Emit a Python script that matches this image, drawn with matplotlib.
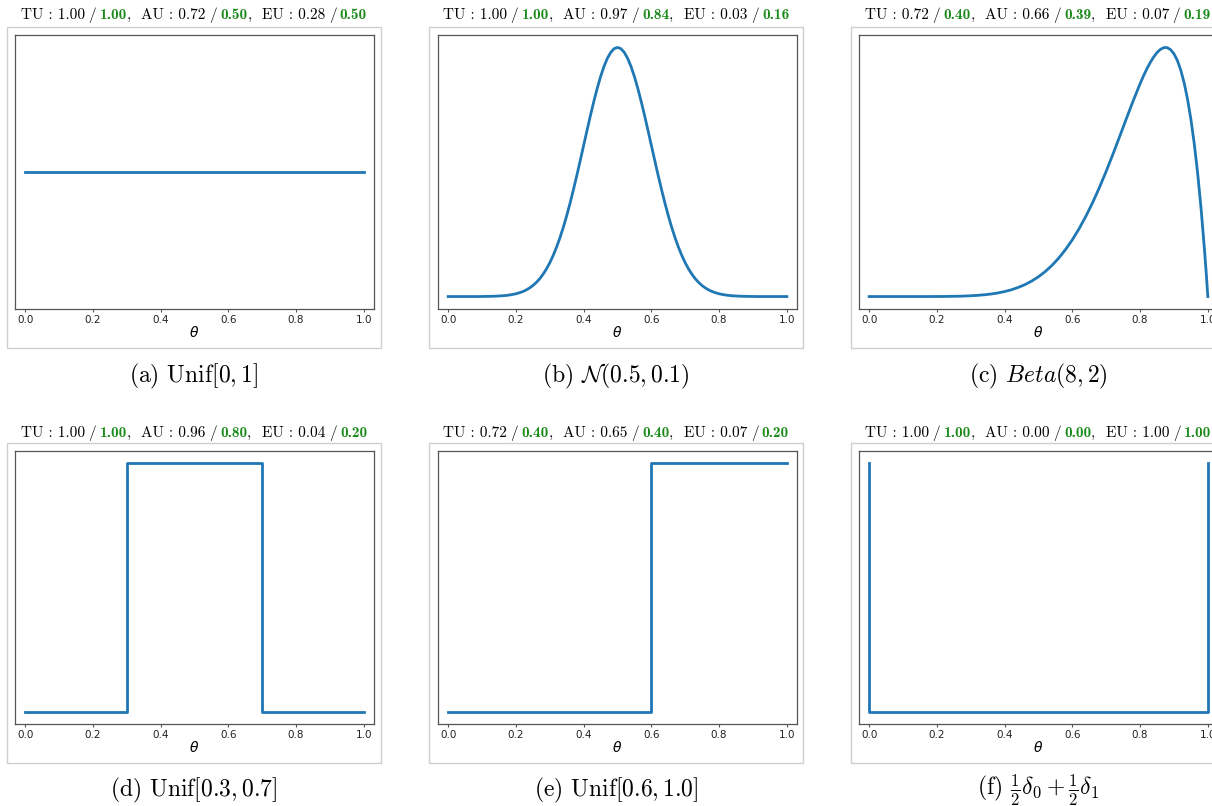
import numpy as np
import matplotlib
matplotlib.use("Agg")
import matplotlib.pyplot as plt
from matplotlib.offsetbox import TextArea, HPacker, AnnotationBbox
from matplotlib.patches import Rectangle

W, H = 1212, 806

# ---- data ----
unif_x = [0.0, 1.0]
unif_y = [1.0, 1.0]

# N(0.5, 0.1), sampled every 0.01
normal_x = np.linspace(0, 1, 101)
normal_y = [0, 0, 0, 0, 0, 0, 0, 0, 0, 0,
            0.001, 0.002, 0.003, 0.004, 0.006, 0.009, 0.012, 0.017, 0.024, 0.033,
            0.044, 0.060, 0.079, 0.104, 0.136, 0.175, 0.224, 0.283, 0.355, 0.440,
            0.540, 0.656, 0.790, 0.940, 1.109, 1.295, 1.497, 1.714, 1.942, 2.179,
            2.420, 2.661, 2.897, 3.123, 3.332, 3.521, 3.683, 3.814, 3.910, 3.970,
            3.989,
            3.970, 3.910, 3.814, 3.683, 3.521, 3.332, 3.123, 2.897, 2.661, 2.420,
            2.179, 1.942, 1.714, 1.497, 1.295, 1.109, 0.940, 0.790, 0.656, 0.540,
            0.440, 0.355, 0.283, 0.224, 0.175, 0.136, 0.104, 0.079, 0.060, 0.044,
            0.033, 0.024, 0.017, 0.012, 0.009, 0.006, 0.004, 0.003, 0.002, 0.001,
            0, 0, 0, 0, 0, 0, 0, 0, 0, 0]

# Beta(8, 2)
beta_x = [0.00, 0.02, 0.04, 0.06, 0.08, 0.10, 0.12, 0.14, 0.16, 0.18,
          0.20, 0.22, 0.24, 0.26, 0.28, 0.30, 0.32, 0.34, 0.36, 0.38,
          0.40, 0.42, 0.44, 0.46, 0.48, 0.50, 0.52, 0.54, 0.56, 0.58,
          0.60, 0.62, 0.64, 0.66, 0.68, 0.70, 0.72, 0.74, 0.76, 0.78,
          0.80, 0.81, 0.82, 0.83, 0.84, 0.85, 0.86, 0.87, 0.875, 0.88,
          0.89, 0.90, 0.91, 0.92, 0.93, 0.94, 0.95, 0.96, 0.97, 0.98,
          0.99, 0.995, 1.00]
beta_y = [0.000, 0.000, 0.000, 0.000, 0.000, 0.000, 0.000, 0.000, 0.000, 0.000,
          0.001, 0.001, 0.003, 0.004, 0.007, 0.011, 0.017, 0.025, 0.036, 0.051,
          0.071, 0.096, 0.129, 0.169, 0.220, 0.281, 0.355, 0.443, 0.547, 0.668,
          0.806, 0.964, 1.140, 1.335, 1.549, 1.779, 2.022, 2.275, 2.531, 2.782,
          3.020, 3.130, 3.231, 3.321, 3.399, 3.462, 3.507, 3.531, 3.534, 3.531,
          3.503, 3.444, 3.349, 3.213, 3.033, 2.801, 2.514, 2.164, 1.745, 1.250,
          0.671, 0.348, 0.000]

u37_x = [0.0, 0.3, 0.3, 0.7, 0.7, 1.0]
u37_y = [0.0, 0.0, 2.5, 2.5, 0.0, 0.0]

u61_x = [0.0, 0.6, 0.6, 1.0]
u61_y = [0.0, 0.0, 2.5, 2.5]

delta_x = [0.0, 0.0, 1.0, 1.0]
delta_y = [1.0, 0.0, 0.0, 1.0]

scores = [
    [("1.00", "1.00"), ("0.72", "0.50"), ("0.28", "0.50")],
    [("1.00", "1.00"), ("0.97", "0.84"), ("0.03", "0.16")],
    [("0.72", "0.40"), ("0.66", "0.39"), ("0.07", "0.19")],
    [("1.00", "1.00"), ("0.96", "0.80"), ("0.04", "0.20")],
    [("0.72", "0.40"), ("0.65", "0.40"), ("0.07", "0.20")],
    [("1.00", "1.00"), ("0.00", "0.00"), ("1.00", "1.00")],
]

captions = [
    r"(a) $\mathrm{Unif}[0, 1]$",
    r"(b) $\mathcal{N}(0.5, 0.1)$",
    r"(c) $Beta(8, 2)$",
    r"(d) $\mathrm{Unif}[0.3, 0.7]$",
    r"(e) $\mathrm{Unif}[0.6, 1.0]$",
    r"(f) $\frac{1}{2}\delta_0 + \frac{1}{2}\delta_1$",
]

curves = [
    (unif_x, unif_y),
    (normal_x, normal_y),
    (beta_x, beta_y),
    (u37_x, u37_y),
    (u61_x, u61_y),
    (delta_x, delta_y),
]

# ---- layout in pixels ----
frame_left = [7, 429, 851]
axes_left = [15, 438, 859]
rows = [
    dict(title=15, ftop=27, fbot=348, atop=35, abot=309, cap=376),
    dict(title=433, ftop=443, fbot=763, atop=451, abot=724, cap=790),
]

fig = plt.figure(figsize=(W / 100, H / 100), dpi=100)

normal_tp = dict(family="cmr10", size=11, color="black")
bold_tp = dict(family="cmb10", size=11, color="#1a8a1a")

for i in range(6):
    r = rows[i // 3]
    c = i % 3
    fx = frame_left[c]
    fw = 374
    fig.add_artist(Rectangle((fx / W, 1 - r["fbot"] / H), fw / W,
                             (r["fbot"] - r["ftop"]) / H,
                             transform=fig.transFigure, fill=False,
                             edgecolor="#cfcfcf", lw=1.0))
    xc = fx + fw / 2

    ax = fig.add_axes([axes_left[c] / W, 1 - r["abot"] / H, 359 / W,
                       (r["abot"] - r["atop"]) / H])
    x, y = curves[i]
    ax.plot(x, y, color="#1f77b4", lw=2.0)
    ax.set_xlim(-0.03, 1.03)
    ax.set_xticks([0, 0.2, 0.4, 0.6, 0.8, 1.0])
    ax.set_yticks([])
    ax.tick_params(axis="x", labelsize=7.5, length=2.5, width=0.8,
                   color="#555555", labelcolor="#222222", pad=2)
    for s in ax.spines.values():
        s.set_color("#555555")
        s.set_linewidth(0.9)
    ax.set_xlabel(r"$\theta$", fontsize=10, labelpad=0)

    parts = []
    for k, name in enumerate(["TU", "AU", "EU"]):
        ours, ref = scores[i][k]
        grp = HPacker(children=[TextArea(f"{name} : {ours}", textprops=normal_tp),
                                TextArea("/", textprops=normal_tp),
                                TextArea(ref, textprops=bold_tp)],
                      align="baseline", pad=0, sep=2.5)
        parts.append(grp)
        if k < 2:
            parts.append(TextArea(",  ", textprops=normal_tp))
    box = HPacker(children=parts, align="baseline", pad=0, sep=0)
    fig.add_artist(AnnotationBbox(box, (xc, H - r["title"]),
                                  xycoords="figure pixels", frameon=False,
                                  box_alignment=(0.5, 0.5), pad=0))

    fig.text(xc / W, 1 - r["cap"] / H, captions[i], family="cmr10",
             math_fontfamily="cm", size=17, ha="center", va="center")

fig.savefig("out.png", dpi=100)
